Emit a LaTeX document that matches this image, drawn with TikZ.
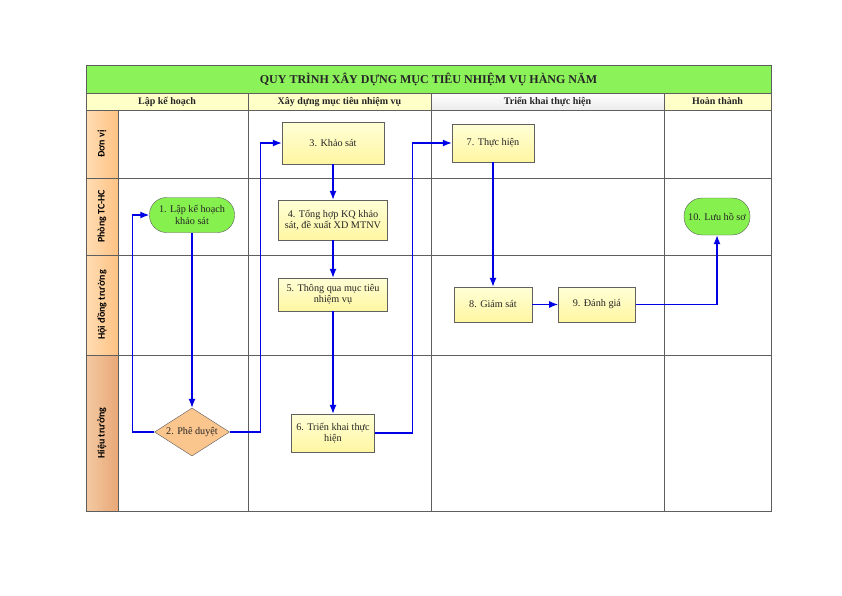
\documentclass[tikz,border=0pt]{standalone}
\usepackage{fontspec}
\setmainfont{Liberation Serif}
\newfontfamily\lanefont{Carlito}
\usetikzlibrary{positioning, arrows, arrows.meta, shapes.geometric}
\definecolor{titlegreen}{HTML}{8CF25A}
\definecolor{headyellow}{HTML}{FFFFC8}
\definecolor{laneorangeA}{HTML}{FFDDB4}
\definecolor{laneorangeB}{HTML}{FFC283}
\definecolor{laneorangeC}{HTML}{F3C9A2}
\definecolor{laneorangeD}{HTML}{E9A877}
\definecolor{taskyellowA}{HTML}{FFFFD6}
\definecolor{taskyellowB}{HTML}{FFF6A2}
\definecolor{termgreen}{HTML}{86F04E}
\definecolor{decorange}{HTML}{FBC58E}
\definecolor{gridgray}{HTML}{5E5E5E}

\begin{document}
\begin{tikzpicture}
			[x=1pt, y=-1pt, node distance=20pt]
			
			\tikzstyle{grid} = [draw=gridgray, line width=0.7pt]
			
			\tikzstyle{heading} = [font=\fontsize{10}{12}\selectfont\bfseries, text=black!85, text height=7.5pt, text depth=1.5pt]
			
			\tikzstyle{lane} = [rotate=90, font=\lanefont\fontsize{10}{12}\selectfont\bfseries]
			
			\tikzstyle{task} = [rectangle, draw=gray!75!black, top color=taskyellowA, bottom color=taskyellowB, align=center, font=\fontsize{10.2}{11.5}\selectfont, text=black!85, inner sep=1pt]
			
			\tikzstyle{term} = [rectangle, rounded corners=17pt, draw=gray!70!black, fill=termgreen, align=center, font=\fontsize{10.2}{11.5}\selectfont, text=black!85, minimum height=35pt, inner sep=1pt]
			
			\tikzstyle{decision} = [diamond, aspect=1.6, inner sep=0pt, minimum width=75pt, minimum height=48pt, draw=gray!70!black, fill=decorange, font=\fontsize{10.2}{11.5}\selectfont, text=black!85]
			
			\tikzstyle{arrow} = [draw=blue!90!black, line width=1.3pt, -{Latex[length=9pt,width=7pt]}]
			
			\useasboundingbox (0,0) rectangle (842,595);
			
			\fill [titlegreen] (86,65) rectangle (771,93);
			\fill [headyellow] (86,93) rectangle (771,110);
			\shade [top color=white, bottom color=gray!15] (431,93) rectangle (664,110);
			\shade [left color=laneorangeA, right color=laneorangeB] (86,110) rectangle (118,355);
			\shade [left color=laneorangeC, right color=laneorangeD] (86,355) rectangle (118,511);
			
			\draw [grid] (86,93) -- (771,93);
			\draw [grid] (86,110) -- (771,110);
			\draw [grid] (86,178) -- (771,178);
			\draw [grid] (86,255) -- (771,255);
			\draw [grid] (86,355) -- (771,355);
			\draw [grid] (118,110) -- (118,511);
			\draw [grid] (248,93) -- (248,511);
			\draw [grid] (431,93) -- (431,511);
			\draw [grid] (664,93) -- (664,511);
			\draw [grid, line width=0.9pt] (86,65) rectangle (771,511);
			
			\node (title) [font=\fontsize{12}{14}\selectfont\bfseries, text=black!85] at (428.5,79) {QUY TRÌNH XÂY DỰNG MỤC TIÊU NHIỆM VỤ HÀNG NĂM};
			
			\node (hplan) [heading] at (167,101.5) {Lập kế hoạch};
			\node (hbuild) [heading] at (339.5,101.5) {Xây dựng mục tiêu nhiệm vụ};
			\node (hdeploy) [heading] at (547.5,101.5) {Triển khai thực hiện};
			\node (hdone) [heading] at (717.5,101.5) {Hoàn thành};
			
			\node (ldonvi) [lane] at (102,144) {Đơn vị};
			\node (lphong) [lane] at (102,216.5) {Phòng TC-HC};
			\node (lhoidong) [lane] at (102,305) {Hội đồng trường};
			\node (lhieutruong) [lane] at (102,433) {Hiệu trưởng};
			
			\node (plan) [term, minimum width=85pt] at (192,215) {1. Lập kế hoạch\\khảo sát};
			\node (approve) [decision] at (192,432) {2. Phê duyệt};
			\node (survey) [task, minimum width=102pt, minimum height=42pt] at (333,143) {3. Khảo sát};
			\node (summary) [task, minimum width=109pt, minimum height=40pt] at (333,220) {4. Tổng hợp KQ khảo\\sát, đề xuất XD MTNV};
			\node (adopt) [task, minimum width=109pt, minimum height=33pt] at (333,294.5) {5. Thông qua mục tiêu\\nhiệm vụ};
			\node (launch) [task, minimum width=83pt, minimum height=38pt] at (333,433) {6. Triển khai thực\\hiện};
			\node (execute) [task, minimum width=82pt, minimum height=38pt] at (493,143) {7. Thực hiện};
			\node (monitor) [task, minimum width=78pt, minimum height=35pt] at (493,304.5) {8. Giám sát};
			\node (assess) [task, minimum width=77pt, minimum height=35pt, right=26pt of monitor] {9. Đánh giá};
			\node (archive) [term, minimum width=66pt, minimum height=37pt, rounded corners=18pt] at (717,216.5) {10. Lưu hồ sơ};
			
			\draw [arrow] (plan) -- (approve);
			\draw [arrow] (approve.west) -- ++(-22,0) |- (plan.west);
			\draw [arrow] (approve.east) -- ++(31,0) |- (survey.west);
			\draw [arrow] (survey) -- (summary);
			\draw [arrow] (summary) -- (adopt);
			\draw [arrow] (adopt) -- (launch);
			\draw [arrow] (launch.east) -- ++(38,0) |- (execute.west);
			\draw [arrow] (execute) -- (monitor);
			\draw [arrow] (monitor) -- (assess);
			\draw [arrow] (assess.east) -| (archive.south);
			
		\end{tikzpicture}
\end{document}
